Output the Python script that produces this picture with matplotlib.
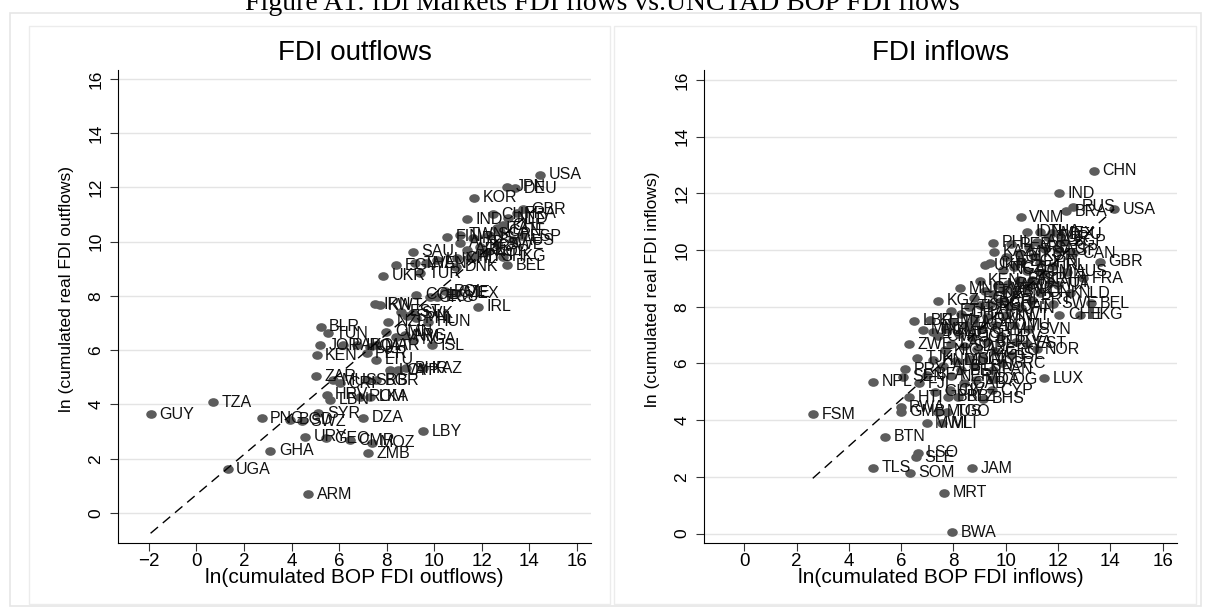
import matplotlib
matplotlib.use("Agg")
import matplotlib.pyplot as plt
from matplotlib.path import Path
from matplotlib.transforms import Affine2D
from matplotlib.patches import Rectangle

plt.rcParams['font.family'] = ['Liberation Sans', 'DejaVu Sans']

# ---- FDI outflows: country code, ln(BOP outflows), ln(fDi outflows)
out_codes = ["USA", "JPN", "DEU", "KOR", "GBR", "FRA", "CHN", "NLD", "IND", "ITA",
             "CHE", "CAN", "ESP", "SGP", "FIN", "TWN", "RUS", "AUS", "AUT", "SWE",
             "BRA", "ARE", "NOR", "SAU", "MYS", "PRT", "HKG", "CHL", "LUX", "EGY",
             "THA", "VEN", "BEL", "DNK", "TUR", "UKR", "COL", "GRC", "POL", "CZE",
             "MEX", "ECU", "IRL", "IRN", "KWT", "EST", "SVK", "SVN", "PHL", "HUN",
             "NZL", "BLR", "OMN", "TUN", "VNM", "ARG", "NGA", "ISL", "JOR", "PAK",
             "IRQ", "QAT", "MAR", "PER", "KEN", "LTU", "KAZ", "LVA", "CYP", "BHR",
             "ZAR", "MUS", "CRI", "SRB", "BGR", "HRV", "LBN", "ROM", "LKA", "TZA",
             "SYR", "GUY", "DZA", "PNG", "BGD", "SWZ", "LBY", "URY", "GEO", "CMR",
             "MOZ", "GHA", "ZMB", "UGA", "ARM"]
out_bop = [14.46, 13.07, 13.39, 11.66, 13.71, 13.46, 12.45, 13.11, 11.38, 12.62,
           12.90, 12.76, 13.67, 12.30, 10.52, 11.10, 11.64, 13.32, 11.08, 12.69,
           11.92, 11.36, 12.20, 9.11, 11.50, 11.78, 12.90, 10.94, 10.10, 8.39,
           9.20, 9.67, 13.07, 10.91, 9.39, 7.85, 9.25, 9.81, 10.45, 10.66,
           10.94, 10.10, 11.85, 7.50, 7.70, 8.62, 9.11, 8.85, 9.25, 9.74,
           8.06, 5.22, 7.99, 5.51, 8.41, 8.76, 9.11, 9.89, 5.19, 6.17,
           6.73, 7.29, 7.57, 7.15, 5.05, 7.54, 9.53, 8.13, 8.48, 8.83,
           5.03, 5.75, 6.03, 7.15, 7.57, 5.47, 5.61, 6.87, 7.29, 0.70,
           5.12, -1.93, 7.01, 2.74, 3.93, 4.42, 9.53, 4.56, 5.44, 6.45,
           7.36, 3.11, 7.22, 1.31, 4.70]
out_fdi = [12.46, 12.03, 11.97, 11.62, 11.20, 11.05, 11.01, 10.86, 10.83, 10.50,
           10.60, 10.37, 10.21, 10.25, 10.19, 10.25, 10.13, 10.06, 9.96, 9.88,
           9.82, 9.70, 9.63, 9.63, 9.45, 9.50, 9.45, 9.39, 9.33, 9.14,
           9.20, 9.21, 9.14, 9.08, 8.84, 8.75, 8.04, 7.95, 8.18, 8.12,
           8.10, 7.97, 7.61, 7.70, 7.66, 7.42, 7.36, 7.25, 7.18, 7.05,
           7.05, 6.87, 6.68, 6.62, 6.50, 6.56, 6.38, 6.19, 6.19, 6.19,
           6.19, 6.13, 6.19, 5.89, 5.82, 5.64, 5.33, 5.27, 5.27, 5.33,
           5.05, 4.90, 4.78, 4.90, 4.90, 4.35, 4.17, 4.29, 4.29, 4.08,
           3.67, 3.64, 3.51, 3.49, 3.43, 3.39, 3.02, 2.81, 2.75, 2.69,
           2.59, 2.29, 2.20, 1.61, 0.69]
out_fit = (0.68, 0.74)   # intercept, slope of dashed fitted line

# ---- FDI inflows
in_codes = ["CHN", "IND", "RUS", "BRA", "USA", "VNM", "IDN", "THA", "MEX", "DEU",
            "TUR", "SGP", "ARG", "PER", "PHL", "ARE", "SAU", "ESP", "KAZ", "MYS",
            "CAN", "KOR", "COL", "EGY", "GBR", "JPN", "CHL", "UKR", "IRL", "CZE",
            "NGA", "ROM", "AUS", "HUN", "FRA", "ISR", "PAK", "KEN", "AUT", "BGD",
            "ITA", "MAR", "MNG", "NZL", "VEN", "LKA", "SVK", "DNK", "NLD", "DZA",
            "ECU", "PRT", "KGZ", "CRI", "BEL", "SWE", "BGR", "SRB", "TUN", "QAT",
            "FIN", "ETH", "GHA", "CHE", "HKG", "KWT", "OMN", "URY", "KHM", "LBR",
            "TZA", "UGA", "DOM", "LTU", "GTM", "ZMB", "SVN", "MMR", "BOL", "AGO",
            "HRV", "CMR", "JOR", "BLR", "LVA", "EST", "LAO", "ZWE", "SDN", "AZE",
            "NOR", "NIC", "GEO", "ISL", "TJK", "MKD", "SLV", "HND", "MDG", "GRC",
            "ALB", "LBN", "PRY", "PAN", "BEN", "BFA", "NER", "SEN", "LUX", "COG",
            "MDA", "NPL", "GAB", "FJI", "CYP", "CIV", "GUY", "BRB", "BLZ", "HTI",
            "BHS", "RWA", "GMB", "MUS", "TGO", "FSM", "MWI", "MLI", "BTN", "LSO",
            "SLE", "TLS", "JAM", "SOM", "MRT", "BWA"]
in_bop = [13.38, 12.05, 12.56, 12.30, 14.15, 10.57, 10.80, 11.31, 11.76, 12.07,
          11.60, 12.20, 11.20, 10.20, 9.50, 10.90, 11.50, 12.00, 9.55, 10.50,
          12.58, 11.10, 10.00, 10.60, 13.60, 11.30, 9.40, 9.20, 11.80, 10.30,
          9.90, 10.80, 12.33, 11.40, 12.96, 11.00, 10.50, 9.00, 11.70, 10.10,
          12.01, 9.70, 8.25, 10.80, 9.90, 9.20, 10.30, 11.30, 12.46, 9.50,
          8.80, 11.00, 7.42, 9.80, 13.25, 11.79, 9.40, 9.00, 8.60, 10.20,
          10.60, 7.90, 8.30, 12.05, 12.84, 10.00, 9.30, 8.80, 7.10, 6.50,
          8.00, 8.50, 9.60, 10.30, 9.10, 7.70, 10.90, 6.82, 7.22, 8.20,
          9.80, 7.40, 8.70, 9.30, 10.40, 10.80, 7.90, 6.31, 8.40, 8.90,
          11.18, 7.67, 9.60, 10.20, 6.60, 9.10, 8.60, 7.23, 8.10, 9.84,
          7.60, 8.80, 6.15, 9.52, 8.30, 7.00, 7.90, 6.08, 11.46, 9.50,
          8.86, 4.93, 8.40, 6.70, 9.46, 7.87, 7.30, 7.80, 8.18, 6.30,
          9.12, 5.98, 5.99, 7.42, 7.75, 2.62, 6.97, 7.57, 5.38, 6.65,
          6.57, 4.93, 8.70, 6.34, 7.64, 7.95]
in_fdi = [12.80, 12.00, 11.53, 11.36, 11.44, 11.16, 10.65, 10.65, 10.59, 10.53,
          10.45, 10.30, 10.30, 10.20, 10.26, 10.10, 10.05, 10.00, 9.94, 9.90,
          9.89, 9.80, 9.75, 9.60, 9.59, 9.55, 9.53, 9.47, 9.45, 9.40,
          9.30, 9.25, 9.24, 9.15, 9.00, 8.95, 8.95, 8.92, 8.85, 8.80,
          8.77, 8.75, 8.65, 8.65, 8.60, 8.55, 8.55, 8.50, 8.47, 8.45,
          8.30, 8.25, 8.21, 8.20, 8.12, 8.10, 8.10, 8.05, 8.00, 8.00,
          7.95, 7.85, 7.75, 7.71, 7.71, 7.70, 7.65, 7.55, 7.53, 7.50,
          7.45, 7.35, 7.35, 7.35, 7.20, 7.20, 7.20, 7.18, 7.12, 7.05,
          6.95, 6.95, 6.90, 6.75, 6.75, 6.70, 6.70, 6.68, 6.60, 6.50,
          6.50, 6.47, 6.45, 6.30, 6.20, 6.20, 6.15, 6.12, 6.10, 6.01,
          5.90, 5.90, 5.79, 5.77, 5.75, 5.60, 5.55, 5.53, 5.48, 5.44,
          5.42, 5.36, 5.30, 5.30, 5.06, 5.06, 5.00, 4.83, 4.83, 4.80,
          4.75, 4.45, 4.30, 4.30, 4.30, 4.21, 3.89, 3.89, 3.42, 2.85,
          2.69, 2.32, 2.30, 2.15, 1.44, 0.04]
in_fit = (-0.21, 0.823)

W, H = 1205, 608
fig = plt.figure(figsize=(W / 100, H / 100), dpi=100)


def fx(px):
    return px / W


def fy(py):
    return 1 - py / H


# frames of the combined graph
fig.patches.append(Rectangle((fx(10), fy(606)), fx(1201) - fx(10), fy(13) - fy(606),
                             transform=fig.transFigure, fill=False, ec='#e6e6e6', lw=1.2))
for x0, x1 in [(29, 610), (614, 1196)]:
    fig.patches.append(Rectangle((fx(x0), fy(604)), fx(x1) - fx(x0), fy(26) - fy(604),
                                 transform=fig.transFigure, fill=False, ec='#ececec', lw=1.0))

fig.text(0.5, fy(10), "Figure A1: fDi Markets FDI flows vs.UNCTAD BOP FDI flows",
         family=['Liberation Serif', 'DejaVu Serif'], fontsize=20, ha='center', va='baseline')

ell = Path.unit_circle().transformed(Affine2D().scale(1.0, 0.82))


def panel(left, xlim, ylim, xticks, codes, xs, ys, fit, title, xlabel, ylabel):
    ax = fig.add_axes([fx(left), fy(543), fx(left + 473) - fx(left), fy(70) - fy(543)])
    ax.plot(xs, ys, linestyle='none', marker=ell, markersize=7.6,
            color='#5c5c5c', markeredgewidth=0, zorder=3)
    for c, x, y in zip(codes, xs, ys):
        ax.annotate(c, (x, y), xytext=(6.2, 0), textcoords='offset points',
                    ha='left', va='center', fontsize=11.5, color='#111111', zorder=4)
    x0, x1 = min(xs), max(xs)
    a, b = fit
    ax.plot([x0, x1], [a + b * x0, a + b * x1], color='black', lw=1.0,
            linestyle=(0, (7, 4.5)), zorder=5)
    ax.set_xlim(*xlim)
    ax.set_ylim(*ylim)
    ax.set_xticks(xticks)
    ax.set_yticks(range(0, 17, 2))
    ax.grid(axis='y', color='#e4e4e4', lw=1.0)
    ax.set_axisbelow(True)
    for s in ['top', 'right']:
        ax.spines[s].set_visible(False)
    for s in ['left', 'bottom']:
        ax.spines[s].set_linewidth(0.8)
    ax.tick_params(direction='out', length=6, width=0.8, color='#333333',
                   labelsize=13.5, pad=1)
    ax.tick_params(axis='y', labelsize=12.5, pad=4.5)
    for lab in ax.get_yticklabels():
        lab.set_rotation(90)
        lab.set_va('center')
    ax.set_xlabel(xlabel, fontsize=15)
    ax.xaxis.set_label_coords(0.5, -0.052)
    ax.set_ylabel(ylabel, fontsize=12.5)
    ax.yaxis.set_label_coords(-0.092, 0.537)
    fig.text(fx(left + 236.5), fy(60), title, fontsize=20, ha='center', va='baseline')
    return ax


panel(118, (-3.30, 16.59), (-1.106, 16.33), range(-2, 17, 2),
      out_codes, out_bop, out_fdi, out_fit, "FDI outflows",
      "ln(cumulated BOP FDI outflows)", "ln (cumulated real FDI outflows)")
panel(704, (-1.54, 16.55), (-0.335, 16.35), range(0, 17, 2),
      in_codes, in_bop, in_fdi, in_fit, "FDI inflows",
      "ln(cumulated BOP FDI inflows)", "ln (cumulated real FDI inflows)")

fig.savefig("out.png", dpi=100)
